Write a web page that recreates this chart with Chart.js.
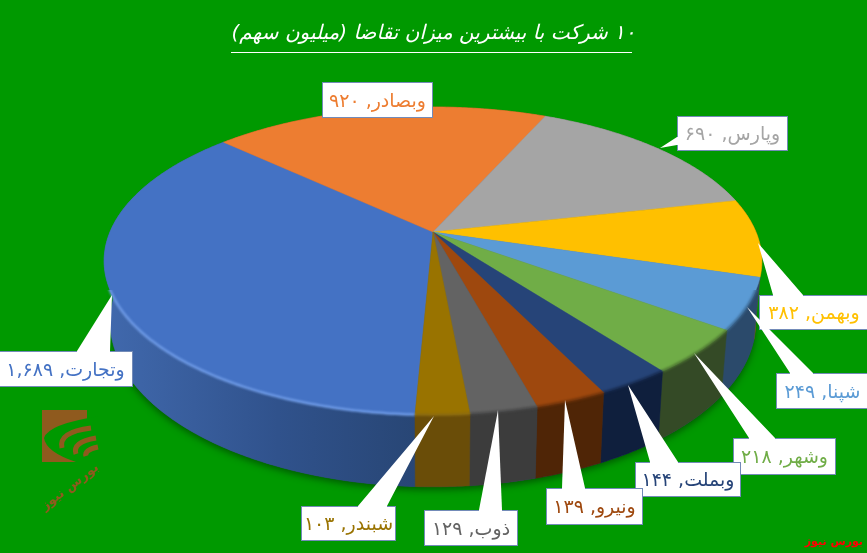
<!DOCTYPE html>
<html>
<head>
<meta charset="utf-8">
<script src="https://cdn.jsdelivr.net/npm/chart.js@4"></script>
<style>
  html, body { margin: 0; padding: 0; background: #009900; overflow: hidden; }
  canvas { display: block; }
</style>
</head>
<body>
<canvas id="pie3d" dir="rtl" width="867" height="553"></canvas>
<script>
const titleText = "۱۰ شرکت با بیشترین میزان تقاضا (میلیون سهم)";
const categories = ["وتجارت", "وبصادر", "وپارس", "وبهمن", "شپنا", "وشهر", "وبملت", "ونیرو", "ذوب", "شبندر"];
const values = [1689, 920, 690, 382, 249, 218, 144, 139, 129, 103];
const colors = ["#4472C4", "#ED7D31", "#A5A5A5", "#FFC000", "#5B9BD5", "#70AD47", "#264478", "#9E480E", "#636363", "#997300"];
const sideColors = ["#2f5088", "#a85820", "#747474", "#7f6000", "#2b4a6b", "#344a26", "#0f1f3d", "#4f2506", "#3c3c3c", "#6a4d08"];
const rimColors = ["#6f9be6", "#c96a28", "#8c8c8c", "#b98c00", "#3d6a94", "#4d7531", "#16294d", "#6e3209", "#484848", "#8a6a10"];

// white callouts: box x, y, w, h and pointer tip + base (where it joins the box)
const boxes = [
  { x: -2, y: 351, w: 135, h: 36, tip: [112, 295], base: [[77, 351], [110, 351]] },
  { x: 322, y: 82, w: 111, h: 36 },
  { x: 677, y: 116, w: 111, h: 35, tip: [660, 148], base: [[677, 137], [677, 145]] },
  { x: 759, y: 295, w: 110, h: 35, tip: [758, 243], base: [[773, 295], [803, 295]] },
  { x: 776, y: 373, w: 93, h: 36, tip: [747, 307], base: [[790, 373], [813, 373]] },
  { x: 733, y: 438, w: 103, h: 37, tip: [694, 353], base: [[749, 438], [775, 438]] },
  { x: 635, y: 462, w: 106, h: 35, tip: [628, 385], base: [[650, 462], [678, 462]] },
  { x: 546, y: 488, w: 97, h: 37, tip: [565, 400], base: [[562, 488], [585, 488]] },
  { x: 424, y: 510, w: 94, h: 36, tip: [498, 410], base: [[479, 510], [502, 510]] },
  { x: 301, y: 506, w: 95, h: 35, tip: [434, 416], base: [[358, 506], [387, 506]] },
];

// perspective of the disc: top face and bottom face
const topFace = { cx: 433, cy: 232, a: 323, b: 148.5 };
const bottomFace = { cx: 433, cy: 291, a: 317, b: 159 };
const persp = -0.188;

function project(face, angle) {
  const u = Math.cos(angle);
  const v = Math.sin(angle);
  const w = 1 + persp * v;
  return [face.cx + face.a * u / w, face.cy + face.b * v / w];
}

function rimPath(ctx, face, from, to) {
  const steps = Math.max(2, Math.ceil(Math.abs(to - from) / 0.01));
  for (let i = 0; i <= steps; i++) {
    const p = project(face, from + (to - from) * i / steps);
    ctx.lineTo(p[0], p[1]);
  }
}

function faDigits(n) {
  return n.toLocaleString("en-US").replace(/[0-9]/g, (d) => "۰۱۲۳۴۵۶۷۸۹"[d]);
}

function drawDisc(chart) {
  const ctx = chart.ctx;
  const arcs = chart.getDatasetMeta(0).data;

  // soft shadow under the disc
  ctx.save();
  ctx.shadowColor = "rgba(0,40,0,0.55)";
  ctx.shadowBlur = 7;
  ctx.shadowOffsetY = 3;
  ctx.fillStyle = "#2f5088";
  ctx.beginPath();
  rimPath(ctx, bottomFace, 0, Math.PI * 2);
  ctx.closePath();
  ctx.fill();
  ctx.restore();

  // sides
  arcs.forEach((arc, i) => {
    let fill = sideColors[i];
    if (i === 0) {
      fill = ctx.createLinearGradient(110, 0, 415, 0);
      fill.addColorStop(0, "#4068ac");
      fill.addColorStop(0.55, "#30528c");
      fill.addColorStop(1, "#284675");
    }
    ctx.fillStyle = fill;
    ctx.strokeStyle = fill;
    ctx.lineWidth = 0.5;
    ctx.beginPath();
    rimPath(ctx, topFace, arc.startAngle, arc.endAngle);
    rimPath(ctx, bottomFace, arc.endAngle, arc.startAngle);
    ctx.closePath();
    ctx.fill();
    ctx.stroke();
  });

  // top face
  arcs.forEach((arc, i) => {
    ctx.fillStyle = colors[i];
    ctx.strokeStyle = colors[i];
    ctx.lineWidth = 0.5;
    ctx.beginPath();
    ctx.moveTo(topFace.cx, topFace.cy);
    rimPath(ctx, topFace, arc.startAngle, arc.endAngle);
    ctx.closePath();
    ctx.fill();
    ctx.stroke();
  });

  // bevel along the front of the rim only
  ctx.save();
  ctx.beginPath();
  ctx.rect(0, 290, 867, 263);
  ctx.clip();
  ctx.filter = "blur(1px)";
  ctx.lineWidth = 2.5;
  arcs.forEach((arc, i) => {
    ctx.strokeStyle = rimColors[i];
    ctx.beginPath();
    rimPath(ctx, topFace, arc.startAngle, arc.endAngle);
    ctx.stroke();
  });
  ctx.restore();
}

function drawCallouts(chart) {
  const ctx = chart.ctx;
  boxes.forEach((b, i) => {
    ctx.fillStyle = "#ffffff";
    ctx.fillRect(b.x, b.y, b.w, b.h);
    ctx.strokeStyle = "rgba(68,100,160,0.75)";
    ctx.lineWidth = 1;
    ctx.strokeRect(b.x + 0.5, b.y + 0.5, b.w - 1, b.h - 1);
    if (b.tip) {
      // pointer runs a little into the box so the border opens up
      const mx = (b.base[0][0] + b.base[1][0]) / 2;
      const my = (b.base[0][1] + b.base[1][1]) / 2;
      const dx = mx === b.x ? 2 : 0;
      const dy = my === b.y ? 2 : 0;
      ctx.beginPath();
      ctx.moveTo(b.tip[0], b.tip[1]);
      ctx.lineTo(b.base[0][0], b.base[0][1]);
      ctx.lineTo(b.base[0][0] + dx, b.base[0][1] + dy);
      ctx.lineTo(b.base[1][0] + dx, b.base[1][1] + dy);
      ctx.lineTo(b.base[1][0], b.base[1][1]);
      ctx.closePath();
      ctx.fill();
    }
    ctx.save();
    ctx.direction = "rtl";
    ctx.textAlign = "center";
    ctx.textBaseline = "middle";
    ctx.font = "19px 'DejaVu Sans'";
    ctx.fillStyle = colors[i];
    ctx.fillText(categories[i] + ", " + faDigits(values[i]), b.x + b.w / 2, b.y + b.h / 2 + 2);
    ctx.restore();
  });
}

function drawLogo(chart) {
  const ctx = chart.ctx;
  const brown = "#8f5a1e";
  ctx.save();
  ctx.fillStyle = brown;
  ctx.fillRect(42, 410, 45, 52);
  // green cut and the curved bands
  ctx.fillStyle = "#009900";
  ctx.beginPath();
  ctx.moveTo(100, 416);
  ctx.quadraticCurveTo(48, 424, 44, 438);
  ctx.quadraticCurveTo(46, 452, 76, 462);
  ctx.lineTo(100, 462);
  ctx.closePath();
  ctx.fill();
  ctx.strokeStyle = brown;
  ctx.lineWidth = 5;
  ctx.beginPath();
  ctx.moveTo(62, 448);
  ctx.quadraticCurveTo(58, 432, 91, 428);
  ctx.moveTo(76, 454);
  ctx.quadraticCurveTo(72, 442, 96, 438);
  ctx.moveTo(86, 456);
  ctx.quadraticCurveTo(84, 450, 98, 447);
  ctx.stroke();
  ctx.translate(70, 487);
  ctx.rotate(-0.65);
  ctx.direction = "rtl";
  ctx.textAlign = "center";
  ctx.textBaseline = "middle";
  ctx.font = "bold 13px 'DejaVu Sans'";
  ctx.fillStyle = brown;
  ctx.fillText("بورس نیوز", 0, 0);
  ctx.restore();

  ctx.save();
  ctx.direction = "rtl";
  ctx.textAlign = "right";
  ctx.textBaseline = "middle";
  ctx.font = "bold 11px 'DejaVu Sans'";
  ctx.fillStyle = "#ff0000";
  ctx.fillText("بورس نیوز", 863, 542);
  ctx.restore();
}

const disc3d = {
  id: "disc3d",
  beforeDatasetsDraw(chart) {
    drawDisc(chart);
    return false;
  },
  afterDraw(chart) {
    const ctx = chart.ctx;
    ctx.fillStyle = "#ffffff";
    ctx.fillRect(231, 52, 401, 1);
    drawCallouts(chart);
    drawLogo(chart);
  },
};

new Chart(document.getElementById("pie3d"), {
  type: "pie",
  data: {
    labels: categories,
    datasets: [{ data: values, backgroundColor: colors, borderWidth: 0 }],
  },
  options: {
    responsive: false,
    animation: false,
    rotation: -177.4,
    plugins: {
      legend: { display: false },
      tooltip: { enabled: false },
      title: {
        display: true,
        text: titleText,
        color: "#ffffff",
        align: "center",
        padding: { top: 22, bottom: 10 },
        font: { family: "'DejaVu Sans'", size: 20, weight: "normal", style: "italic" },
      },
    },
  },
  plugins: [disc3d],
});
</script>
</body>
</html>
